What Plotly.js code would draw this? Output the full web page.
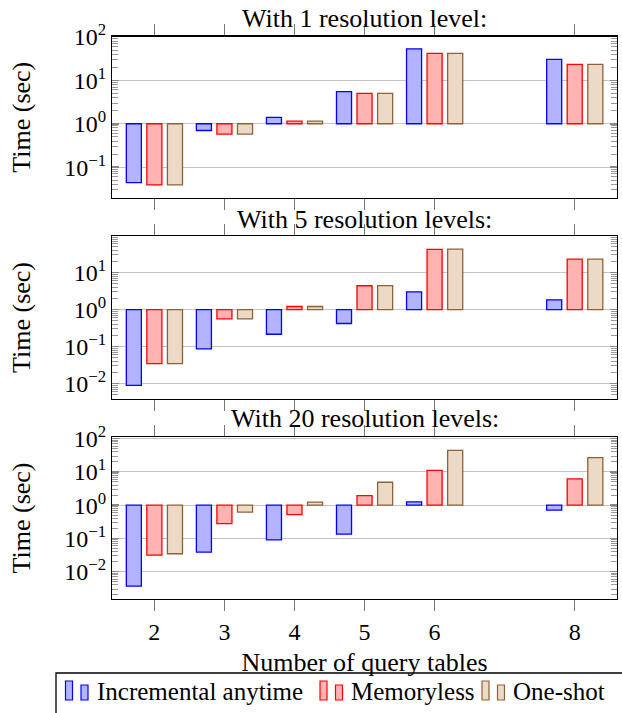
<!DOCTYPE html>
<html>
<head>
<meta charset="utf-8">
<script src="https://cdn.plot.ly/plotly-3.0.1.min.js"></script>
<style>html,body{margin:0;padding:0;background:#fff;}#chart{width:622px;height:713px;}</style>
</head>
<body>
<div id="chart"></div>
<script>
// ---- data ----
var queryTables = [2, 3, 4, 5, 6, 8];
var seriesNames = ['Incremental anytime', 'Memoryless', 'One-shot'];
var panelTitles = ['With 1 resolution level:', 'With 5 resolution levels:', 'With 20 resolution levels:'];

// With 1 resolution level
var res1Incremental = [0.044, 0.70, 1.40, 5.5, 53, 30.5];
var res1Memoryless  = [0.039, 0.58, 1.15, 5.0, 42, 23.4];
var res1OneShot     = [0.039, 0.58, 1.15, 5.0, 42, 23.4];
// With 5 resolution levels
var res5Incremental = [0.0089, 0.086, 0.215, 0.42, 3.0, 1.83];
var res5Memoryless  = [0.0344, 0.56, 1.21, 4.4, 42.5, 23.1];
var res5OneShot     = [0.0344, 0.56, 1.21, 4.45, 43, 23.1];
// With 20 resolution levels
var res20Incremental = [0.0037, 0.039, 0.091, 0.135, 1.26, 0.71];
var res20Memoryless  = [0.0316, 0.28, 0.52, 1.95, 11.2, 6.2];
var res20OneShot     = [0.0347, 0.62, 1.23, 4.9, 44.7, 26.9];

var yTickVals = [0.01, 0.1, 1, 10, 100];
var yTickText = ['10<sup>−2</sup>', '10<sup>−1</sup>', '10<sup>0</sup>', '10<sup>1</sup>', '10<sup>2</sup>'];

// ---- styling ----
var FONT = 'Liberation Serif';
var fills = ['#b3b3ff', '#ffb3b3', '#ecd9c6'];
var lines = ['#0000ff', '#ff0000', '#8c6239'];
var offsets = [-0.40, -0.107, 0.187];
var barWidth = 0.215;
var baseValue = 1;

var panels = [
  [res1Incremental, res1Memoryless, res1OneShot],
  [res5Incremental, res5Memoryless, res5OneShot],
  [res20Incremental, res20Memoryless, res20OneShot]
];
var yRanges = [[-1.71, 2.01], [-2.42, 1.99], [-2.82, 2.05]];
var W = 622, H = 713;
var plotLeft = 112.3, plotRight = 616.7;
var panelPx = [[36.5, 198], [236, 399], [437, 599]];
var titleY = [19, 219, 419];
var legendTextX = [96.5, 351, 513];
var legendTop = 673, legendMidY = 691;

var traces = [];
panels.forEach(function (series, p) {
  series.forEach(function (vals, s) {
    traces.push({
      type: 'bar',
      name: seriesNames[s],
      x: queryTables,
      y: vals.map(function (v) { return v - baseValue; }),
      base: baseValue,
      customdata: vals,
      hovertemplate: '%{customdata}<extra>' + seriesNames[s] + '</extra>',
      width: barWidth,
      offset: offsets[s],
      xaxis: p === 0 ? 'x' : 'x' + (p + 1),
      yaxis: p === 0 ? 'y' : 'y' + (p + 1),
      marker: { color: fills[s], line: { color: lines[s], width: 1.3 } },
      showlegend: false
    });
  });
});

var layout = {
  width: W, height: H,
  margin: { l: 0, r: 0, t: 0, b: 0 },
  paper_bgcolor: '#fff', plot_bgcolor: '#fff',
  font: { family: FONT, size: 24, color: '#000' },
  barmode: 'overlay',
  showlegend: false,
  annotations: [],
  shapes: []
};

function px(x) { return x / W; }
function py(y) { return 1 - y / H; }

for (var p = 0; p < 3; p++) {
  var sfx = p === 0 ? '' : String(p + 1);
  var xa = {
    domain: [px(plotLeft), px(plotRight)],
    anchor: 'y' + sfx,
    range: [1.4, 8.6],
    tickvals: queryTables,
    ticktext: queryTables.map(String),
    showticklabels: p === 2,
    ticks: 'outside', ticklen: 11, tickcolor: '#777', tickwidth: 1,
    showline: true, linecolor: '#000', linewidth: 1.3, mirror: 'ticks',
    showgrid: false, zeroline: false,
    tickfont: { family: FONT, size: 24, color: '#000' }
  };
  if (p === 2) xa.title = { text: 'Number of query tables', font: { family: FONT, size: 26, color: '#000' }, standoff: 8 };
  layout['xaxis' + sfx] = xa;
  layout['yaxis' + sfx] = {
    domain: [py(panelPx[p][1]), py(panelPx[p][0])],
    anchor: 'x' + sfx,
    type: 'log',
    range: yRanges[p],
    tickvals: yTickVals,
    ticktext: yTickText,
    ticks: 'inside', ticklen: 7, tickcolor: '#888', tickwidth: 1.5,
    minor: { ticks: 'inside', ticklen: 6, tickcolor: '#999', tickwidth: 1, dtick: 'D1', showgrid: false },
    showline: true, linecolor: '#000', linewidth: 1.3, mirror: 'ticks',
    showgrid: true, gridcolor: '#c4c4c4', gridwidth: 1,
    zeroline: false,
    tickfont: { family: FONT, size: 24, color: '#000' },
    title: { text: 'Time (sec)', font: { family: FONT, size: 26, color: '#000' }, standoff: 26 }
  };
  layout.annotations.push({
    text: panelTitles[p], xref: 'paper', yref: 'paper',
    x: px((plotLeft + plotRight) / 2), y: py(titleY[p]),
    xanchor: 'center', yanchor: 'middle', showarrow: false,
    font: { family: FONT, size: 26, color: '#000' }
  });
}

// ---- legend (pgfplots style: two small bars per entry) ----
layout.shapes.push({
  type: 'rect', xref: 'paper', yref: 'paper',
  x0: px(56), x1: px(640), y0: py(730), y1: py(legendTop),
  line: { color: '#000', width: 1.3 }, fillcolor: 'rgba(0,0,0,0)'
});
seriesNames.forEach(function (name, s) {
  var t = legendTextX[s];
  layout.shapes.push({
    type: 'rect', xref: 'paper', yref: 'paper',
    x0: px(t - 31), x1: px(t - 24), y0: py(legendMidY + 9), y1: py(legendMidY - 10),
    line: { color: lines[s], width: 1.2 }, fillcolor: fills[s]
  });
  layout.shapes.push({
    type: 'rect', xref: 'paper', yref: 'paper',
    x0: px(t - 15.5), x1: px(t - 8.5), y0: py(legendMidY + 9), y1: py(legendMidY - 6),
    line: { color: lines[s], width: 1.2 }, fillcolor: fills[s]
  });
  layout.annotations.push({
    text: name, xref: 'paper', yref: 'paper',
    x: px(t - 2), y: py(legendMidY), xanchor: 'left', yanchor: 'middle',
    showarrow: false, font: { family: FONT, size: 25, color: '#000' }
  });
});

Plotly.newPlot('chart', traces, layout, { displayModeBar: false, staticPlot: true });
</script>
</body>
</html>
